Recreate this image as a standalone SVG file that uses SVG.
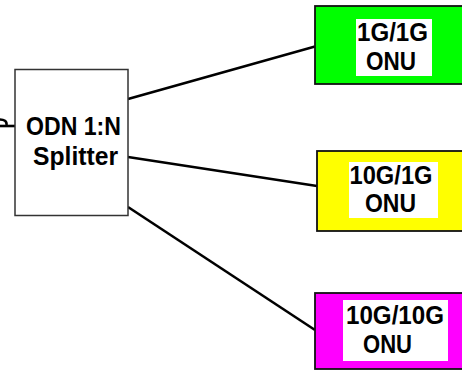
<svg xmlns="http://www.w3.org/2000/svg" width="462" height="370" viewBox="0 0 462 370">
  <style>
    .lbl { font-family: "Liberation Sans", Arial, sans-serif; font-weight: bold; font-size: 25px; fill: #000; text-anchor: middle; }
    .box { stroke: #111; stroke-width: 1.8; }
    .wire { stroke: #000; stroke-width: 2.6; fill: none; }
  </style>
  <rect width="462" height="370" fill="#fff"/>

  <!-- connectors -->
  <g id="connectors">
    <path class="wire" d="M0,119.5 C4,119.5 7,121 6.5,125" stroke-width="1.6"/>
    <line class="wire" x1="0" y1="126" x2="15" y2="126" stroke-width="1.8"/>
    <line class="wire" x1="128" y1="99" x2="315" y2="46.5"/>
    <line class="wire" x1="128" y1="157" x2="317" y2="186"/>
    <line class="wire" x1="128" y1="207" x2="315" y2="330"/>
  </g>

  <!-- splitter -->
  <g id="splitter">
    <rect x="15" y="69.5" width="113" height="146" fill="#fff" stroke="#333" stroke-width="1.5"/>
    <text class="lbl" x="73.5" y="135" textLength="95" lengthAdjust="spacingAndGlyphs">ODN 1:N</text>
    <text class="lbl" x="75.5" y="165" textLength="85" lengthAdjust="spacingAndGlyphs">Splitter</text>
  </g>

  <!-- 1G/1G ONU -->
  <g id="onu-1g-1g">
    <rect class="box" x="315" y="6" width="160" height="78" fill="#00ff00"/>
    <rect x="356" y="19" width="76" height="57" fill="#fff"/>
    <text class="lbl" x="392.5" y="41" textLength="71" lengthAdjust="spacingAndGlyphs">1G/1G</text>
    <text class="lbl" x="391" y="70" textLength="50" lengthAdjust="spacingAndGlyphs">ONU</text>
  </g>

  <!-- 10G/1G ONU -->
  <g id="onu-10g-1g">
    <rect class="box" x="317" y="151" width="160" height="80" fill="#ffff00"/>
    <rect x="349" y="162" width="89" height="56" fill="#fff"/>
    <text class="lbl" x="391" y="183.5" textLength="83" lengthAdjust="spacingAndGlyphs">10G/1G</text>
    <text class="lbl" x="390.5" y="211.5" textLength="51" lengthAdjust="spacingAndGlyphs">ONU</text>
  </g>

  <!-- 10G/10G ONU -->
  <g id="onu-10g-10g">
    <rect class="box" x="315" y="293" width="160" height="76" fill="#ff00ff"/>
    <rect x="343" y="300" width="105" height="61" fill="#fff"/>
    <text class="lbl" x="395" y="324" textLength="98" lengthAdjust="spacingAndGlyphs">10G/10G</text>
    <text class="lbl" x="387.5" y="353" textLength="49" lengthAdjust="spacingAndGlyphs">ONU</text>
  </g>
</svg>
